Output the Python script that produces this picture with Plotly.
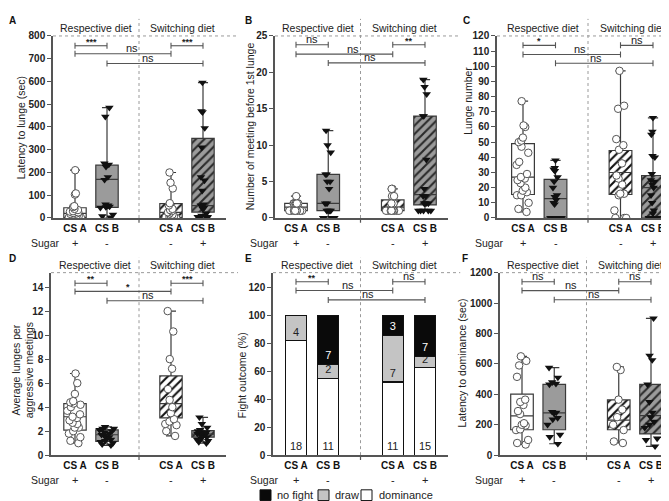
import plotly.graph_objects as go

W, H = 669, 501
FONT = "Liberation Sans, Arial, sans-serif"

# ---------------- data ----------------
cat_labels = ["CS A", "CS B", "CS A", "CS B"]
cat_x = [0, 1, 3, 4]
sugar_marks = ["+", "-", "-", "+"]
diet_groups = ["Respective diet", "Switching diet"]

# A: latency to lunge (sec)
A_points = [
    [210, 108, 103, 52, 48, 40, 35, 30, 28, 25, 22, 20, 18, 15, 12, 10, 8, 5, 3, 2, 0, 0],
    [485, 445, 240, 235, 225, 180, 168, 60, 55, 52, 50, 48, 45, 15, 8, 3],
    [200, 155, 130, 65, 55, 40, 35, 30, 25, 20, 15, 10, 8, 5, 3, 0, 0, 0],
    [595, 470, 465, 395, 310, 180, 165, 120, 60, 55, 50, 45, 40, 20, 10, 5, 5, 0, 0],
]
A_q1 = [3, 47, 3, 26]
A_med = [20, 170, 25, 54]
A_q3 = [45, 232, 63, 350]
A_min = [0, 0, 0, 0]
A_max = [210, 485, 200, 595]

# B: number of meetings before 1st lunge
B_points = [
    [3, 2, 2, 2, 2, 2, 2, 2, 2, 2, 1, 1, 1, 1, 1, 1, 1, 1, 1, 1, 1, 1],
    [12, 10, 9, 6, 6, 5, 5, 4, 2, 2, 1, 1, 1, 1, 0, 0, 0, 0],
    [4, 4, 3, 3, 2, 2, 2, 2, 1, 1, 1, 1, 1, 1, 1, 1, 1, 1],
    [19, 18, 17, 14, 14, 8, 4, 3, 3, 2, 2, 2, 2, 1, 1, 1, 1, 1],
]
B_q1 = [1, 1, 1, 1.8]
B_med = [1.5, 2, 1.5, 3.2]
B_q3 = [2, 6, 2.5, 14]
B_min = [1, 0, 1, 1]
B_max = [3, 12, 4, 19]

# C: lunge number
C_points = [
    [77, 61, 60, 53, 51, 50, 47, 43, 37, 35, 29, 27, 26, 25, 23, 20, 18, 17, 15, 15, 10, 6, 4],
    [38, 33, 32, 31, 27, 24, 20, 15, 14, 12, 10, 9, 0, 0, 0, 0, 0, 0, 0, 0],
    [97, 74, 72, 52, 48, 45, 36, 28, 26, 22, 16, 16, 15, 5, 0, 0, 0],
    [66, 57, 55, 41, 40, 29, 25, 24, 22, 20, 15, 10, 5, 3, 0, 0, 0, 0, 0, 0],
]
C_q1 = [15.5, 0, 15.5, 0]
C_med = [27, 12.8, 30, 20]
C_q3 = [49, 25.5, 44.5, 28]
C_min = [4, 0, 0, 0]
C_max = [77, 38, 97, 66]

# D: average lunges per aggressive meeting
D_points = [
    [6.8, 6.0, 5.1, 4.5, 4.4, 4.3, 4.2, 4.0, 3.7, 3.4, 3.2, 3.1, 2.9, 2.7, 2.6, 2.3, 2.3, 2.0, 1.8, 1.5, 1.2, 1.0],
    [2.35, 2.2, 2.2, 2.1, 2.0, 1.9, 1.8, 1.7, 1.6, 1.5, 1.4, 1.3, 1.2, 1.1, 1.0, 0.9, 0.82],
    [12.0, 10.3, 8.0, 7.2, 5.5, 4.6, 4.0, 3.5, 3.0, 2.8, 2.6, 2.5, 2.0, 1.6],
    [3.15, 2.6, 2.3, 2.1, 2.0, 1.9, 1.9, 1.8, 1.8, 1.7, 1.7, 1.6, 1.5, 1.4, 1.3, 1.2, 1.1, 1.0],
]
D_q1 = [2.08, 1.15, 3.1, 1.5]
D_med = [3.2, 1.7, 4.3, 1.75]
D_q3 = [4.3, 2.1, 6.6, 2.04]
D_min = [1.0, 0.82, 1.6, 1.0]
D_max = [6.8, 2.35, 12.0, 3.15]

# E: fight outcome counts
E_dominance = [18, 11, 11, 15]
E_draw = [4, 2, 7, 2]
E_nofight = [0, 7, 3, 7]

# F: latency to dominance (sec)
F_points = [
    [650, 620, 590, 515, 365, 350, 330, 290, 270, 210, 200, 195, 170, 165, 100, 80, 70],
    [575, 510, 480, 470, 465, 285, 280, 275, 245, 235, 200, 135, 120, 75],
    [580, 560, 365, 300, 250, 200, 165, 90, 80],
    [900, 655, 625, 465, 350, 280, 250, 220, 200, 180, 110, 100, 58],
]
F_q1 = [167, 167, 167, 140]
F_med = [259, 278, 230, 260]
F_q3 = [401, 465, 364, 465]
F_min = [70, 75, 80, 58]
F_max = [650, 575, 580, 900]

# significance comparisons: (from, to, level, label)
A_sig = [(0, 1, 757, "***"), (0, 3, 722, "ns"), (1, 4, 679, "ns"), (3, 4, 757, "***")]
B_sig = [(0, 1, 23.8, "ns"), (0, 3, 22.5, "ns"), (1, 4, 21.3, "ns"), (3, 4, 23.8, "**")]
C_sig = [(0, 1, 113.8, "*"), (0, 3, 107.8, "ns"), (1, 4, 102, "ns"), (3, 4, 113.8, "ns")]
D_sig = [(0, 1, 14.32, "**"), (0, 3, 13.64, "*"), (1, 4, 12.86, "ns"), (3, 4, 14.32, "***")]
E_sig = [(0, 1, 124, "**"), (0, 3, 117.7, "ns"), (1, 4, 111, "ns"), (3, 4, 124, "ns")]
F_sig = [(0, 1, 1140, "ns"), (0, 3, 1082, "ns"), (1, 4, 1022, "ns"), (3, 4, 1140, "ns")]

# ---------------- layout config ----------------
rows = [
    dict(zero=209, top=22.5, header=14, sugar=235, sep_top=5),
    dict(zero=452, top=265, header=257, sugar=477, sep_top=249),
]
# label x offset (in category units) for long-bracket labels
long_lab = {"A": (1.78, 2.28), "B": (1.77, 2.3), "C": (1.75, 2.25),
            "D": (1.66, 2.28), "E": (1.6, 2.23), "F": (1.52, 2.23)}

panels = [
    dict(name="A", row=0, axis_px=45, cat0_px=67, ppu=32, yr=[0, 800], dtick=100,
         title="Latency to lunge (sec)", title_xy=(13, 117), letter_xy=(4.5, 7), sugar_x=37,
         box=(A_points, A_q1, A_med, A_q3, A_min, A_max), sig=A_sig),
    dict(name="B", row=0, axis_px=267, cat0_px=288, ppu=32.25, yr=[0, 25], dtick=5,
         title="Number of meeting before 1st lunge", title_xy=(242, 115), letter_xy=(240, 7), sugar_x=256,
         box=(B_points, B_q1, B_med, B_q3, B_min, B_max), sig=B_sig),
    dict(name="C", row=0, axis_px=489, cat0_px=515, ppu=32.5, yr=[0, 120], dtick=10,
         title="Lunge number", title_xy=(460, 89), letter_xy=(458, 7), sugar_x=481,
         box=(C_points, C_q1, C_med, C_q3, C_min, C_max), sig=C_sig),
    dict(name="D", row=1, axis_px=43, cat0_px=67, ppu=32, yr=[0, 15.2], dtick=2,
         title="Average lunges per<br>aggressive meetings", title_xy=(15, 365), letter_xy=(4.5, 251), sugar_x=37,
         box=(D_points, D_q1, D_med, D_q3, D_min, D_max), sig=D_sig),
    dict(name="E", row=1, axis_px=265, cat0_px=288, ppu=32.25, yr=[0, 130.5], dtick=20,
         title="Fight outcome (%)", title_xy=(234, 370), letter_xy=(240, 251), sugar_x=256,
         box=None, sig=E_sig),
    dict(name="F", row=1, axis_px=492, cat0_px=514, ppu=32.25, yr=[0, 1200], dtick=200,
         title="Latency to dominance (sec)", title_xy=(454, 358), letter_xy=(457, 251), sugar_x=481,
         box=(F_points, F_q1, F_med, F_q3, F_min, F_max), sig=F_sig),
]

GRAY_BOX = "#9b9b9b"
group_style = [
    dict(fill="white", pattern=None, marker=dict(symbol="circle", color="white", size=7.5, line=dict(color="#555", width=1))),
    dict(fill=GRAY_BOX, pattern=None, marker=dict(symbol="triangle-down", color="#111", size=7.5, line=dict(width=0))),
    dict(fill="white", pattern="#111", marker=dict(symbol="circle", color="white", size=7.5, line=dict(color="#555", width=1))),
    dict(fill=GRAY_BOX, pattern="#2a2a2a", marker=dict(symbol="triangle-down", color="#111", size=7.5, line=dict(width=0))),
]

AX_COL = "#555"
fig = go.Figure()
shapes, annotations = [], []
layout = {}


def pxx(p):
    return p / W


def pxy(p):
    return 1 - p / H


for i, pn in enumerate(panels):
    sfx = "" if i == 0 else str(i + 1)
    xa, ya = "x" + sfx, "y" + sfx
    row = rows[pn["row"]]
    xmin = -(pn["cat0_px"] - pn["axis_px"]) / pn["ppu"]
    xmax = 4.72
    x_end_px = pn["cat0_px"] + xmax * pn["ppu"]
    sep_px = pn["cat0_px"] + 2 * pn["ppu"]

    layout["xaxis" + sfx] = dict(
        domain=[pxx(pn["axis_px"]), pxx(x_end_px)], range=[xmin, xmax], anchor=ya,
        showline=True, linecolor=AX_COL, linewidth=1.5, tickvals=cat_x, ticktext=cat_labels,
        ticks="", tickfont=dict(family=FONT, size=10, color="#111", weight="bold"),
        showgrid=False, zeroline=False, fixedrange=True)
    layout["yaxis" + sfx] = dict(
        domain=[pxy(row["zero"]), pxy(row["top"])], range=pn["yr"], anchor=xa,
        showline=True, linecolor=AX_COL, linewidth=1.5, ticks="outside", ticklen=4,
        tickwidth=1.2, tickcolor=AX_COL, dtick=pn["dtick"],
        tickfont=dict(family=FONT, size=10, color="#222", weight="bold"),
        showgrid=False, zeroline=False, fixedrange=True)

    # boxes
    if pn["box"] is not None:
        pts, q1, med, q3, lo, hi = pn["box"]
        for g in range(4):
            st = group_style[g]
            cx = cat_x[g]
            fill = st["fill"]
            if st["pattern"] is not None:
                fig.add_trace(go.Bar(
                    x=[cx], y=[q3[g] - q1[g]], base=[q1[g]], width=0.7, xaxis=xa, yaxis=ya,
                    marker=dict(color=st["fill"], line=dict(width=0),
                                pattern=dict(shape="/", fgcolor=st["pattern"], bgcolor=st["fill"],
                                             size=6, solidity=0.35, fillmode="replace")),
                    showlegend=False, hoverinfo="skip"))
                fill = "rgba(0,0,0,0)"
            fig.add_trace(go.Box(
                x=[cx], q1=[q1[g]], median=[med[g]], q3=[q3[g]], lowerfence=[lo[g]], upperfence=[hi[g]],
                orientation="v", width=0.7, whiskerwidth=0.45, fillcolor=fill,
                line=dict(color="#3a3a3a", width=1.2), boxpoints=False, xaxis=xa, yaxis=ya,
                showlegend=False, hoverinfo="skip"))
            fig.add_trace(go.Box(
                x=[cx] * len(pts[g]), y=pts[g], boxpoints="all", jitter=0.7, pointpos=0, width=0.7,
                line=dict(width=0, color="rgba(0,0,0,0)"), fillcolor="rgba(0,0,0,0)",
                marker=st["marker"], xaxis=xa, yaxis=ya, showlegend=False, hoverinfo="skip"))
    else:
        tot = [a + b + c for a, b, c in zip(E_dominance, E_draw, E_nofight)]
        series = [
            (E_dominance, "white", "#222"),
            (E_draw, "#c4c4c4", "#222"),
            (E_nofight, "#0a0a0a", "white"),
        ]
        for counts, col, tcol in series:
            fig.add_trace(go.Bar(
                x=cat_x, y=[c / t * 100 for c, t in zip(counts, tot)], width=0.65, xaxis=xa, yaxis=ya,
                marker=dict(color=col, line=dict(color="#111", width=1.2)),
                text=[str(c) if c > 0 else "" for c in counts], textposition="inside",
                insidetextanchor="start", textangle=0, constraintext="none",
                textfont=dict(family=FONT, size=11, color=tcol),
                showlegend=False, hoverinfo="skip"))

    # dashed top line and separator
    shapes.append(dict(type="line", xref="paper", yref="paper", x0=pxx(pn["axis_px"]), x1=pxx(min(x_end_px + 12, W)),
                       y0=pxy(row["top"]), y1=pxy(row["top"]), line=dict(color="#9a9a9a", width=1, dash="dot")))
    shapes.append(dict(type="line", xref=xa, yref="paper", x0=2, x1=2, y0=pxy(row["zero"]), y1=pxy(row["sep_top"]),
                       line=dict(color="#9a9a9a", width=1, dash="dot")))
    shapes.append(dict(type="line", xref=xa, yref="paper", x0=2, x1=2, y0=pxy(row["zero"]), y1=pxy(row["zero"] + 5),
                       line=dict(color=AX_COL, width=1.2)))

    # significance brackets
    lab_pos = long_lab[pn["name"]]
    for k, (a, b, lev, lab) in enumerate(pn["sig"]):
        shapes.append(dict(type="line", xref=xa, yref=ya, x0=a, x1=b, y0=lev, y1=lev,
                           line=dict(color=AX_COL, width=1.1)))
        for e in (a, b):
            shapes.append(dict(type="line", xref=xa, yref=ya, ysizemode="pixel", yanchor=lev,
                               x0=e, x1=e, y0=-3, y1=3, line=dict(color=AX_COL, width=1.1)))
        if k == 1:
            lx = lab_pos[0]
        elif k == 2:
            lx = lab_pos[1]
        else:
            lx = (a + b) / 2
        star = lab != "ns"
        annotations.append(dict(
            x=lx, y=lev, xref=xa, yref=ya, text=lab, showarrow=False, yanchor="middle",
            yshift=4 if star else 5.5,
            font=dict(family=FONT, size=9 if star else 11, color="#222", weight="bold" if star else "normal")))

    # headers
    for txt, cxp in zip(diet_groups, [(pn["axis_px"] + sep_px) / 2, (sep_px + x_end_px) / 2]):
        annotations.append(dict(x=pxx(cxp), y=pxy(row["header"]), xref="paper", yref="paper", text=txt,
                                showarrow=False, xanchor="center", yanchor="middle",
                                font=dict(family=FONT, size=10.5, color="#222")))
    # sugar row
    annotations.append(dict(x=pxx(pn["sugar_x"]), y=pxy(row["sugar"]), xref="paper", yref="paper", text="Sugar",
                            showarrow=False, xanchor="center", yanchor="middle",
                            font=dict(family=FONT, size=10.5, color="#222")))
    for cx, m in zip(cat_x, sugar_marks):
        annotations.append(dict(x=cx, y=pxy(row["sugar"]), xref=xa, yref="paper", text=m, showarrow=False,
                                xanchor="center", yanchor="middle", font=dict(family=FONT, size=11, color="#222")))
    # axis title
    annotations.append(dict(x=pxx(pn["title_xy"][0]), y=pxy(pn["title_xy"][1]), xref="paper", yref="paper",
                            text=pn["title"], textangle=-90, showarrow=False, xanchor="center", yanchor="middle",
                            font=dict(family=FONT, size=10.5, color="#222")))
    # panel letter
    annotations.append(dict(x=pxx(pn["letter_xy"][0]), y=pxy(pn["letter_xy"][1]), xref="paper", yref="paper",
                            text="<b>%s</b>" % pn["name"], showarrow=False, xanchor="center", yanchor="middle",
                            font=dict(family=FONT, size=10, color="#111")))

# manual legend for panel E
legend_items = [("no fight", "#0a0a0a", 252, 267), ("draw", "#c4c4c4", 310, 325), ("dominance", "white", 353, 369)]
LEG_Y = 493
for txt, col, sx, tx in legend_items:
    shapes.append(dict(type="rect", xref="paper", yref="paper", x0=pxx(sx), x1=pxx(sx + 11),
                       y0=pxy(LEG_Y + 5.5), y1=pxy(LEG_Y - 5.5), fillcolor=col, line=dict(color="#111", width=1)))
    annotations.append(dict(x=pxx(tx), y=pxy(LEG_Y), xref="paper", yref="paper", text=txt, showarrow=False,
                            xanchor="left", yanchor="middle", font=dict(family=FONT, size=11, color="#222")))

fig.update_layout(
    width=W, height=H, margin=dict(l=0, r=0, t=0, b=0), autosize=False,
    paper_bgcolor="white", plot_bgcolor="white", showlegend=False, hovermode=False,
    barmode="stack", boxmode="overlay",
    shapes=shapes, annotations=annotations, **layout)

fig.write_html("out.html")
